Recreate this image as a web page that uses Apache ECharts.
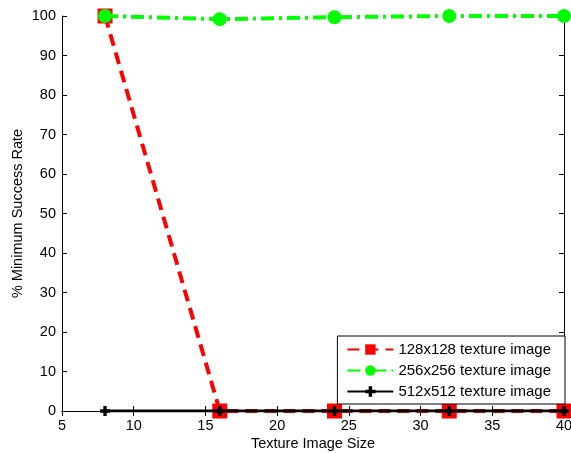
<!DOCTYPE html>
<html>
<head>
<meta charset="utf-8">
<script src="https://cdn.jsdelivr.net/npm/echarts@6/dist/echarts.min.js"></script>
<style>
  html, body { margin: 0; padding: 0; background: #fff; }
  #chart { width: 571px; height: 453px; }
</style>
</head>
<body>
<div id="chart"></div>
<script>
// Texture image sizes tested (x values)
const textureSizes = [8, 16, 24, 32, 40];

// Minimum success rate (%) per texture image resolution
const rate128 = [100, 0, 0, 0, 0];
const rate256 = [100, 99.2, 99.7, 100, 100];
const rate512 = [0, 0, 0, 0, 0];

const seriesNames = ['128x128 texture image', '256x256 texture image', '512x512 texture image'];

const xTicks = { min: 5, max: 40, interval: 5 };
const yTicks = { min: 0, max: 100, interval: 10 };

const font = 'Liberation Sans, Arial, sans-serif';
const fontSize = 14.5;

function pairs(xs, ys) {
  return xs.map((x, i) => [x, ys[i]]);
}

const plusPath = 'path://M3,0H6V3H9V6H6V9H3V6H0V3H3Z';

const chart = echarts.init(document.getElementById('chart'), null, { renderer: 'canvas' });

const baseAxis = {
  type: 'value',
  axisLine: { show: true, lineStyle: { color: '#000', width: 1 } },
  axisTick: { show: true, inside: true, length: 5, lineStyle: { color: '#000' } },
  splitLine: { show: false },
  axisLabel: { color: '#000', fontFamily: font, fontSize: fontSize }
};

chart.setOption({
  backgroundColor: '#fff',
  animation: false,
  grid: { left: 62, right: 7, top: 16, bottom: 42, containLabel: false, outerBoundsMode: 'none' },
  xAxis: [
    Object.assign({}, baseAxis, xTicks, {
      position: 'bottom',
      name: 'Texture Image Size',
      nameLocation: 'middle',
      nameGap: 25,
      nameMoveOverlap: false,
      nameTextStyle: { color: '#000', fontFamily: font, fontSize: fontSize },
      axisLabel: { color: '#000', fontFamily: font, fontSize: fontSize, margin: 7 }
    }),
    Object.assign({}, baseAxis, xTicks, {
      position: 'top',
      axisLabel: { show: false }
    })
  ],
  yAxis: [
    Object.assign({}, baseAxis, yTicks, {
      position: 'left',
      name: '% Minimum Success Rate',
      nameLocation: 'middle',
      nameGap: 37,
      nameMoveOverlap: false,
      nameTextStyle: { color: '#000', fontFamily: font, fontSize: fontSize },
      axisLabel: { color: '#000', fontFamily: font, fontSize: fontSize, margin: 6 }
    }),
    Object.assign({}, baseAxis, yTicks, {
      position: 'right',
      axisLabel: { show: false }
    })
  ],
  legend: {
    orient: 'vertical',
    right: 6,
    bottom: 49,
    itemWidth: 46,
    itemHeight: 13,
    itemGap: 6,
    padding: [6, 14, 5, 9],
    backgroundColor: '#fff',
    borderColor: '#000',
    borderWidth: 1,
    borderRadius: 0,
    textStyle: { color: '#000', fontFamily: font, fontSize: 15 },
    data: seriesNames
  },
  series: [
    {
      name: seriesNames[0],
      type: 'line',
      data: pairs(textureSizes, rate128),
      symbol: 'rect',
      symbolSize: 15,
      itemStyle: { color: '#ff0000' },
      lineStyle: { color: '#ff0000', width: 4, type: [12, 7] },
      z: 2
    },
    {
      name: seriesNames[1],
      type: 'line',
      data: pairs(textureSizes, rate256),
      symbol: 'circle',
      symbolSize: 14,
      itemStyle: { color: '#00ff00' },
      lineStyle: { color: '#00ff00', width: 4, type: [13, 5, 3, 5] },
      z: 3
    },
    {
      name: seriesNames[2],
      type: 'line',
      data: pairs(textureSizes, rate512),
      symbol: plusPath,
      symbolSize: 10,
      itemStyle: { color: '#000' },
      lineStyle: { color: '#000', width: 3 },
      z: 4
    }
  ]
});
</script>
</body>
</html>
